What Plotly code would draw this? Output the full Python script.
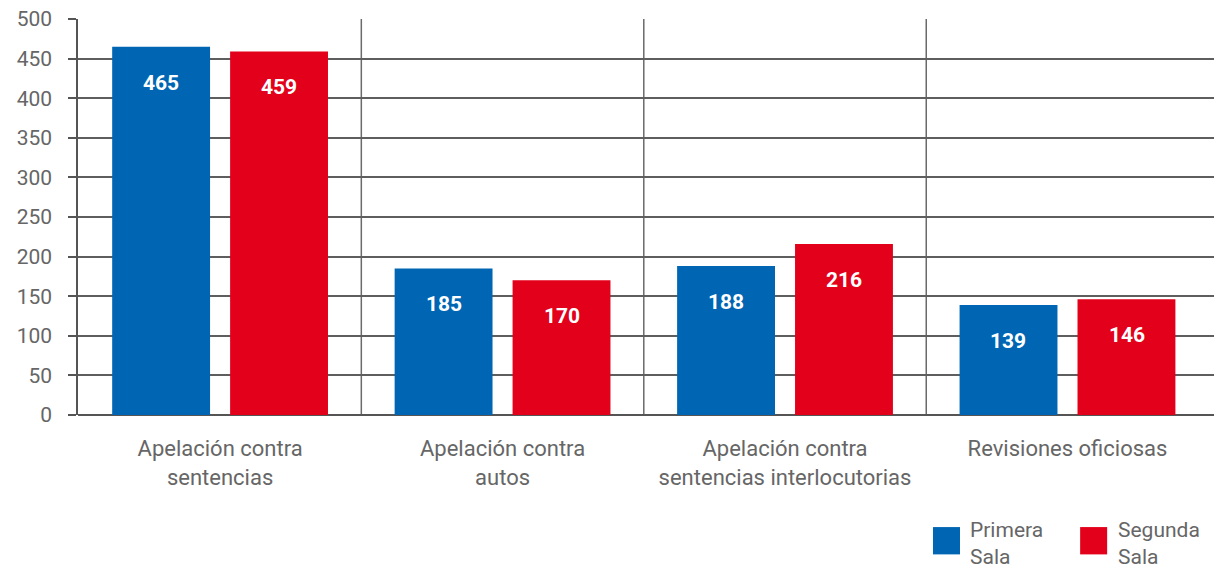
import plotly.graph_objects as go

categories = ["Apelación contra<br>sentencias", "Apelación contra<br>autos",
              "Apelación contra<br>sentencias interlocutorias", "Revisiones oficiosas"]
series_names = ["Primera<br>Sala", "Segunda<br>Sala"]
primera = [465, 185, 188, 139]
segunda = [459, 170, 216, 146]
y_ticks = [0, 50, 100, 150, 200, 250, 300, 350, 400, 450, 500]

BLUE = "#0066b3"
RED = "#e2001a"
FONT = "Roboto, Open Sans, sans-serif"

x_pos = list(range(len(categories)))

fig = go.Figure()
for name, vals, color in [(series_names[0], primera, BLUE), (series_names[1], segunda, RED)]:
    fig.add_trace(go.Bar(
        x=x_pos, y=vals, name=name, marker=dict(color=color, line=dict(width=0)),
        showlegend=False,
    ))

# value labels inside the bars, near the top
for i in x_pos:
    for j, vals in enumerate([primera, segunda]):
        fig.add_annotation(
            x=i + (-0.209 if j == 0 else 0.209), y=vals[i], text=f"<b>{vals[i]}</b>",
            showarrow=False, yshift=-36, font=dict(family=FONT, size=21, color="white"),
        )

# category separators
for i in x_pos[:-1]:
    fig.add_vline(x=i + 0.5, line=dict(color="#6a6a6a", width=1.5), layer="below")

# legend drawn by hand (large squares, two-line names)
leg = [(series_names[0], BLUE, 0.7474), (series_names[1], RED, 0.876)]
for name, color, x0 in leg:
    fig.add_shape(type="rect", xref="paper", yref="paper", x0=x0, x1=x0 + 0.0236,
                  y0=-0.352, y1=-0.283, fillcolor=color, line=dict(width=0))
    fig.add_annotation(xref="paper", yref="paper", x=x0 + 0.031, y=-0.325, text=name,
                       showarrow=False, xanchor="left", yanchor="middle", align="left",
                       font=dict(family=FONT, size=21, color="#666666"))

# page body has an 8px margin, so the figure is sized 8px smaller
fig.update_layout(
    width=1214, height=564,
    margin=dict(l=70, r=0, t=11, b=157, autoexpand=False),
    plot_bgcolor="white", paper_bgcolor="white",
    barmode="group", bargap=0.165, bargroupgap=0.17,
    font=dict(family=FONT, color="#666666"),
)
fig.update_xaxes(
    range=[-0.503, 3.547], tickvals=x_pos, ticktext=categories, automargin=False,
    showgrid=False, zeroline=False, showline=False, ticks="",
    tickfont=dict(family=FONT, size=22, color="#666666"), ticklabelstandoff=18,
)
fig.update_yaxes(
    range=[0, 500], tickvals=y_ticks, automargin=False, ticklabeloverflow="allow",
    showgrid=True, gridcolor="#5e5e5e", gridwidth=1.8,
    zeroline=True, zerolinecolor="#555555", zerolinewidth=2,
    showline=True, linecolor="#555555", linewidth=1.5,
    ticks="outside", ticklen=8, tickcolor="#555555", tickwidth=1.5,
    tickfont=dict(family=FONT, size=21, color="#666666"), ticklabelstandoff=12,
)

fig.write_html("out.html")
